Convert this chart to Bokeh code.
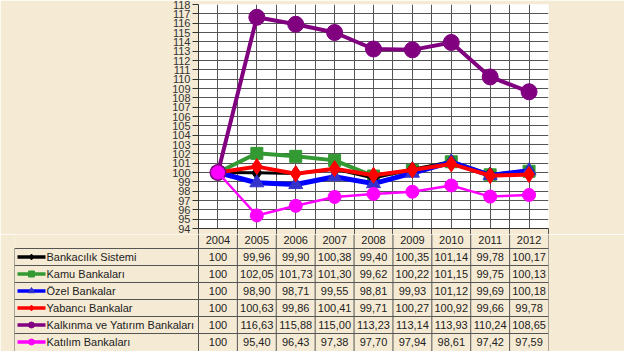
from bokeh.plotting import figure
from bokeh.models import Range1d, FixedTicker, Grid
from bokeh.embed import file_html
from bokeh.resources import INLINE
from bokeh.core.properties import value

# ---------------- data ----------------
years = ["2004", "2005", "2006", "2007", "2008", "2009", "2010", "2011", "2012"]
series_names = [
    "Bankacılık Sistemi",
    "Kamu Bankaları",
    "Özel Bankalar",
    "Yabancı Bankalar",
    "Kalkınma ve Yatırım Bankaları",
    "Katılım Bankaları",
]
bankacilik = [100, 99.96, 99.90, 100.38, 99.40, 100.35, 101.14, 99.78, 100.17]
kamu = [100, 102.05, 101.73, 101.30, 99.62, 100.22, 101.15, 99.75, 100.13]
ozel = [100, 98.90, 98.71, 99.55, 98.81, 99.93, 101.12, 99.69, 100.18]
yabanci = [100, 100.63, 99.86, 100.41, 99.71, 100.27, 100.92, 99.66, 99.78]
kalkinma = [100, 116.63, 115.88, 115.00, 113.23, 113.14, 113.93, 110.24, 108.65]
katilim = [100, 95.40, 96.43, 97.38, 97.70, 97.94, 98.61, 97.42, 97.59]
y_ticks = list(range(94, 119))

series_values = [bankacilik, kamu, ozel, yabanci, kalkinma, katilim]

# ---------------- styles ----------------
BG = "#F5EAD4"
FONT = "Liberation Sans"
TXT = "#222222"
GRIDC = "#555555"
# (line color, marker color, line width, marker, marker size)
styles = [
    ("#000000", "#000000", 3, "diamond", 15),
    ("#339933", "#339933", 4, "square", 12),
    ("#0000FF", "#3333CC", 5, "triangle", 14),
    ("#FF0000", "#FF0000", 4, "diamond", 16),
    ("#800080", "#800080", 4, "circle", 16),
    ("#FF00FF", "#FF00FF", 2.5, "circle", 13),
]
draw_order = [1, 0, 2, 3, 4, 5]

n = len(years)
xs = [i + 0.5 for i in range(n)]

# ---------------- chart ----------------
p = figure(width=624, height=234, x_range=Range1d(0, n),
           y_range=Range1d(y_ticks[0], y_ticks[-1]),
           output_backend="svg", toolbar_location=None,
           min_border_left=198, min_border_right=76,
           min_border_top=4, min_border_bottom=6)
p.background_fill_color = "white"
p.border_fill_color = BG
p.outline_line_color = None

p.yaxis.ticker = FixedTicker(ticks=y_ticks)
p.yaxis.major_label_text_font = FONT
p.yaxis.major_label_text_font_size = "11px"
p.yaxis.major_label_text_color = "#333333"
p.yaxis.major_label_standoff = 2
p.yaxis.major_tick_out = 6
p.yaxis.major_tick_in = 0
p.yaxis.minor_tick_out = 0
p.yaxis.minor_tick_in = 0
p.yaxis.axis_line_color = "#333333"
p.yaxis.major_tick_line_color = "#333333"

# bottom axis: only the column-boundary ticks, no labels
xb = list(range(n + 1))
p.xaxis.ticker = FixedTicker(ticks=xb)
p.xaxis.major_label_overrides = {i: "" for i in xb}
p.xaxis.major_label_text_font_size = "0px"
p.xaxis.major_label_standoff = 0
p.xaxis.major_tick_out = 6
p.xaxis.major_tick_in = 0
p.xaxis.minor_tick_out = 0
p.xaxis.minor_tick_in = 0
p.xaxis.axis_line_color = "#333333"
p.xaxis.major_tick_line_color = GRIDC

p.ygrid.ticker = FixedTicker(ticks=y_ticks)
p.ygrid.grid_line_color = GRIDC
p.ygrid.grid_line_width = 1
p.xgrid.visible = False
p.add_layout(Grid(dimension=0, ticker=FixedTicker(ticks=[i * 0.5 for i in range(2 * n + 1)]),
                  grid_line_color=GRIDC, grid_line_width=1), "center")

for k in draw_order:
    lc, mc, lw, mk, ms = styles[k]
    vals = series_values[k]
    p.line(xs, vals, line_color=lc, line_width=lw)
    p.scatter(xs, vals, marker=mk, size=ms, fill_color=mc, line_color=mc)

# ---------------- table ----------------
colw = 350 / n
left = -184 / colw
row_h = 17.0
top_y = 0.5 + 14 / row_h
bot_y = 0.5 - 103 / row_h

t = figure(width=624, height=117, x_range=Range1d(left, n),
           y_range=Range1d(bot_y, top_y),
           output_backend="svg", toolbar_location=None,
           x_axis_location=None, y_axis_location=None,
           min_border_left=14, min_border_right=76,
           min_border_top=0, min_border_bottom=0)
t.background_fill_color = BG
t.border_fill_color = BG
t.outline_line_color = None
t.grid.visible = False

nrows = len(series_names)
# horizontal borders
hy = [0.5 - r for r in range(nrows)]
t.segment(x0=[left] * len(hy), y0=hy, x1=[n] * len(hy), y1=hy,
          line_color=GRIDC, line_width=1)
# vertical borders
vx = [left] + list(range(n + 1))
vy0 = [0.5] + [top_y] * (n + 1)
t.segment(x0=vx, y0=vy0, x1=vx, y1=[bot_y] * len(vx),
          line_color=GRIDC, line_width=1)

FS = "11px"
# header
t.text(xs, [(0.5 + top_y) / 2 + 0.1] * n, text=years, text_align="center",
       text_baseline="middle", text_font=value(FONT), text_font_size=FS,
       text_color=TXT)

def fmt(i, v):
    if i == 0:
        return str(int(round(v)))
    return f"{v:.2f}".replace(".", ",")

for r, (name, vals) in enumerate(zip(series_names, series_values)):
    yc = -r
    lc, mc, lw, mk, ms = styles[r]
    t.text(xs, [yc] * n, text=[fmt(i, v) for i, v in enumerate(vals)], text_align="center",
           text_baseline="middle", text_font=value(FONT), text_font_size=FS,
           text_color=TXT)
    x0 = left + 3 / colw
    x1 = left + 31 / colw
    t.segment(x0=[x0], y0=[yc], x1=[x1], y1=[yc], line_color=lc, line_width=3.5)
    t.scatter([(x0 + x1) / 2], [yc], marker=mk, size=6, fill_color=mc, line_color=mc)
    t.text([left + 32 / colw], [yc], text=[name], text_align="left",
           text_baseline="middle", text_font=value(FONT), text_font_size=FS,
           text_color=TXT)

open("out.html", "w").write(file_html([p, t], INLINE))
